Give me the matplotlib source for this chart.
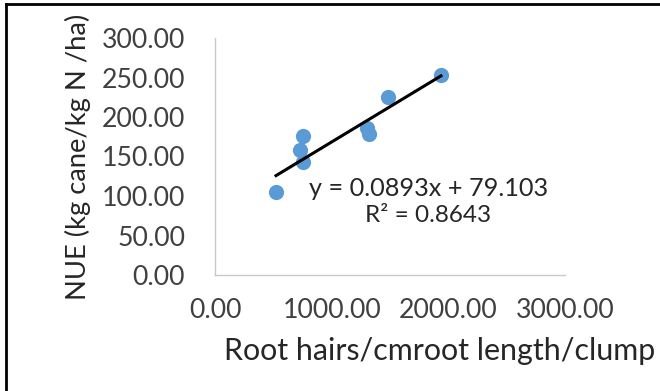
import matplotlib
matplotlib.use("Agg")
import matplotlib.pyplot as plt
from matplotlib.lines import Line2D
import numpy as np

# Root hair density vs nitrogen use efficiency
root_hairs = [523, 728, 754, 754, 1300, 1320, 1482, 1937]
nue = [105, 158, 176, 143, 186, 178, 225, 253]

slope = 0.0893
intercept = 79.103
r_squared = 0.8643

x_ticks = [0, 1000, 2000, 3000]
y_ticks = [0, 50, 100, 150, 200, 250, 300]

plt.rcParams['font.family'] = ['Lato', 'DejaVu Sans']

W, H = 660, 391
fig = plt.figure(figsize=(W / 100, H / 100), dpi=100)
fig.patch.set_facecolor('white')

ax = fig.add_axes([215 / W, 1 - 275 / H, (565 - 215) / W, (275 - 38) / H])
ax.set_xlim(0, 3000)
ax.set_ylim(0, 300)
ax.set_xticks(x_ticks)
ax.set_yticks(y_ticks)
ax.set_xticklabels([f"{v:.2f}" for v in x_ticks])
ax.set_yticklabels([f"{v:.2f}" for v in y_ticks])
ax.tick_params(length=0, labelsize=19.2, colors='#404040')
ax.tick_params(axis='x', pad=16.5)
ax.tick_params(axis='y', pad=21.5)
for side in ('top', 'right'):
    ax.spines[side].set_visible(False)
for side in ('left', 'bottom'):
    ax.spines[side].set_color('#c8c8c8')
    ax.spines[side].set_linewidth(1.0)

ax.scatter(root_hairs, nue, s=120, color='#5b9bd5', zorder=3, linewidths=0)

xs = np.array([min(root_hairs), max(root_hairs)])
ax.plot(xs, slope * xs + intercept, color='black', lw=2.2, zorder=4)

ax.text(1830, 100, f"y = {slope}x + {intercept}", ha='center', va='baseline',
        fontsize=18.2, color='#262626')
ax.text(1825, 67, f"R\u00b2 = {r_squared}", ha='center', va='baseline',
        fontsize=17.5, color='#262626')

fig.text(78 / W, 1 - 157 / H, "NUE (kg cane/kg N /ha)", rotation=90,
         ha='center', va='center', fontsize=19.7, color='#262626')
fig.text(224 / W, 1 - 360 / H, "Root hairs/cmroot length/clump", ha='left',
         va='baseline', fontsize=21.9, color='#262626')

# frame lines along the top and left edges
fig.add_artist(Line2D([6 / W, 6 / W], [0, 1 - 4 / H], transform=fig.transFigure,
                      color='black', lw=2))
fig.add_artist(Line2D([6 / W, 1], [1 - 4 / H, 1 - 4 / H], transform=fig.transFigure,
                      color='black', lw=2))

fig.savefig("out.png", dpi=100)
